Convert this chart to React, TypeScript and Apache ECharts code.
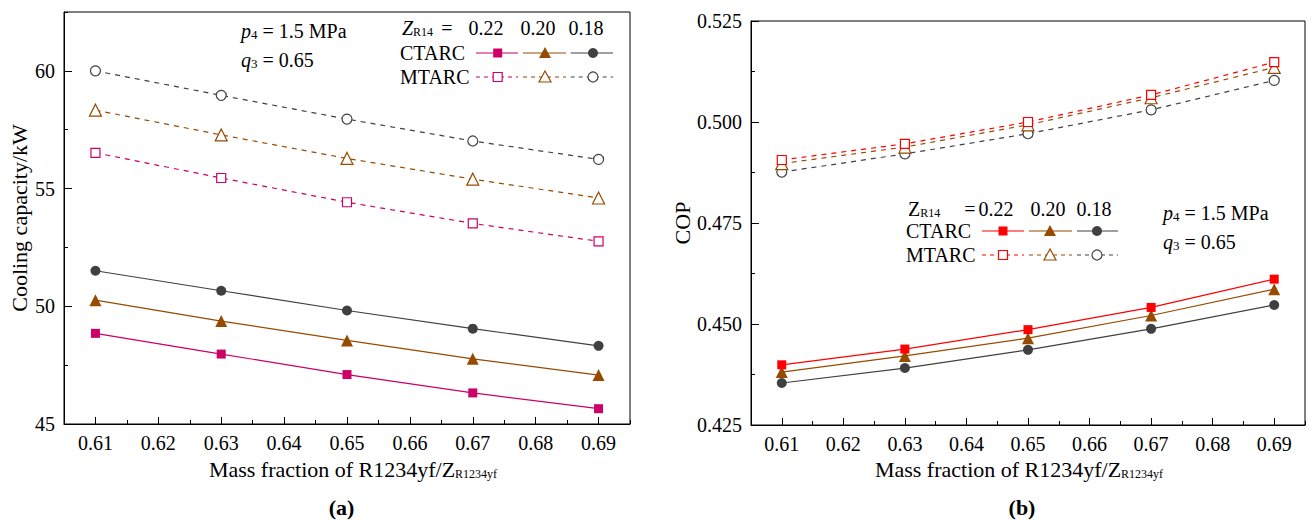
import React, { useEffect, useRef } from 'react';
import * as echarts from 'echarts';

// ---------- data ----------
const xCategories = ['0.61', '0.62', '0.63', '0.64', '0.65', '0.66', '0.67', '0.68', '0.69'];
const xValues = ['0.61', '0.63', '0.65', '0.67', '0.69'];
const zR14Labels = ['0.22', '0.20', '0.18'];

// (a) cooling capacity, kW
const capCTARC022 = [48.85, 47.97, 47.1, 46.32, 45.65];
const capCTARC020 = [50.26, 49.37, 48.55, 47.77, 47.08];
const capCTARC018 = [51.51, 50.66, 49.82, 49.05, 48.32];
const capMTARC022 = [56.52, 55.45, 54.42, 53.52, 52.76];
const capMTARC020 = [58.33, 57.28, 56.28, 55.4, 54.6];
const capMTARC018 = [60.0, 58.96, 57.95, 57.02, 56.24];

// (b) COP
const copCTARC022 = [0.4399, 0.4438, 0.4486, 0.4541, 0.4611];
const copCTARC020 = [0.4381, 0.4421, 0.4465, 0.4521, 0.4586];
const copCTARC018 = [0.4354, 0.4391, 0.4436, 0.4488, 0.4547];
const copMTARC022 = [0.4906, 0.4946, 0.5, 0.5067, 0.5148];
const copMTARC020 = [0.4897, 0.4938, 0.4993, 0.506, 0.5135];
const copMTARC018 = [0.4876, 0.4921, 0.4971, 0.503, 0.5103];

const FONT = "'Times New Roman', 'Liberation Serif', serif";
const MAGENTA = '#CC0066';
const RED = '#FF0000';
const BROWN = '#964B00';
const DARK = '#404040';

const pairs = (vals: number[]) => xValues.map((x, i) => [x, vals[i]]);

function mkSeries(name: string, vals: number[], xIdx: number, yIdx: number, color: string,
  symbol: string, size: number, filled: boolean, dashed: boolean) {
  return {
    name,
    type: 'line',
    xAxisIndex: xIdx,
    yAxisIndex: yIdx,
    data: pairs(vals),
    symbol,
    symbolSize: size,
    showAllSymbol: true,
    lineStyle: { color, width: 1.2, type: dashed ? [5, 5] : 'solid' },
    itemStyle: filled
      ? { color, borderColor: color, borderWidth: 0 }
      : { color: '#ffffff', borderColor: color, borderWidth: 1.2 },
    emphasis: { disabled: true },
    z: filled ? 3 : 2,
  };
}

const RICH = {
  i: { fontFamily: FONT, fontSize: 20, fontStyle: 'italic', fill: '#000' },
  s: { fontFamily: FONT, fontSize: 13, verticalAlign: 'bottom', fill: '#000' },
  n: { fontFamily: FONT, fontSize: 20, fill: '#000' },
  zi: { fontFamily: FONT, fontSize: 20, fontStyle: 'italic', fill: '#000' },
  zn: { fontFamily: FONT, fontSize: 20, fill: '#000' },
  r: { fontFamily: FONT, fontSize: 12, verticalAlign: 'bottom', fill: '#000' },
};

function txt(x: number, y: number, text: string, align = 'left', fontSize = 20, fontWeight = 'normal') {
  return {
    type: 'text',
    x,
    y,
    silent: true,
    style: {
      text,
      fontFamily: FONT,
      fontSize,
      fontWeight,
      fill: '#000',
      align,
      verticalAlign: 'middle',
      rich: RICH,
    },
  };
}

function marker(cx: number, cy: number, symbol: string, color: string, filled: boolean) {
  const style = filled
    ? { fill: color, stroke: color, lineWidth: 0 }
    : { fill: '#ffffff', stroke: color, lineWidth: 1.2 };
  if (symbol === 'rect') {
    return { type: 'rect', shape: { x: cx - 4.5, y: cy - 4.5, width: 9, height: 9 }, style, z: 10 };
  }
  if (symbol === 'triangle') {
    return { type: 'polygon', shape: { points: [[cx, cy - 6], [cx - 6, cy + 5], [cx + 6, cy + 5]] }, style, z: 10 };
  }
  return { type: 'circle', shape: { cx, cy, r: 5 }, style, z: 10 };
}

function sample(x1: number, x2: number, mx: number, y: number, color: string, symbol: string,
  filled: boolean, dashed: boolean) {
  return [
    {
      type: 'line',
      shape: { x1, y1: y, x2, y2: y },
      style: { stroke: color, lineWidth: 1.2, lineDash: dashed ? [4, 4] : null },
      z: 9,
    },
    marker(mx, y, symbol, color, filled),
  ];
}

function legendBlock(
  headX: number, headY: number, eqX: number, numX: number[], ctY: number, mtY: number,
  segs: number[][], c1: string, italicZ: boolean,
) {
  const els: any[] = [];
  els.push(txt(headX, headY, italicZ ? '{zi|Z}{r|R14}' : '{zn|Z}{r|R14}'));
  els.push(txt(eqX, headY, '=', 'center'));
  zR14Labels.forEach((l, i) => els.push(txt(numX[i], headY, l, 'center')));
  els.push(txt(headX - 2, ctY, 'CTARC'));
  els.push(txt(headX - 2, mtY, 'MTARC'));
  const colors = [c1, BROWN, DARK];
  const symbols = ['rect', 'triangle', 'circle'];
  segs.forEach((s, i) => {
    els.push(...sample(s[0], s[1], s[2], ctY, colors[i], symbols[i], true, false));
    els.push(...sample(s[0], s[1], s[2], mtY, colors[i], symbols[i], false, true));
  });
  return els;
}

const axisLineStyle = { lineStyle: { color: '#000', width: 1 } };
const tickLabel = { fontFamily: FONT, fontSize: 20, color: '#000' };

function xAxes(gridIndex: number) {
  return [
    {
      type: 'category',
      gridIndex,
      data: xCategories,
      boundaryGap: true,
      axisLine: axisLineStyle,
      axisTick: { show: true, inside: true, alignWithLabel: true, interval: 0, length: 7, lineStyle: { color: '#000' } },
      axisLabel: { ...tickLabel, margin: 9, interval: 0 },
      splitLine: { show: false },
    },
    {
      type: 'category',
      gridIndex,
      position: 'bottom',
      data: xCategories,
      boundaryGap: true,
      axisLine: { show: false },
      axisTick: { show: true, inside: true, interval: 0, length: 4, lineStyle: { color: '#000' } },
      axisLabel: { show: false },
      splitLine: { show: false },
    },
  ];
}

function yAxes(gridIndex: number, min: number, max: number, interval: number, digits: number,
  name: string, nameGap: number) {
  return [
    {
      type: 'value',
      gridIndex,
      position: 'left',
      min,
      max,
      interval,
      name,
      nameLocation: 'middle',
      nameGap,
      nameTextStyle: { fontFamily: FONT, fontSize: 22, color: '#000' },
      axisLine: { show: true, ...axisLineStyle },
      axisTick: { show: true, inside: true, length: 8, lineStyle: { color: '#000' } },
      axisLabel: {
        ...tickLabel,
        margin: 9,
        showMaxLabel: digits > 0,
        formatter: (v: number) => {
          const k = Math.round(v / interval);
          if (Math.abs(k * interval - v) > interval * 1e-6) return '';
          return v.toFixed(digits);
        },
      },
      splitLine: { show: false },
    },
    {
      type: 'value',
      gridIndex,
      position: 'left',
      min,
      max,
      interval: interval / 2,
      axisLine: { show: false },
      axisTick: { show: true, inside: true, length: 4, lineStyle: { color: '#000' } },
      axisLabel: { show: false },
      splitLine: { show: false },
    },
  ];
}

export default function App() {
  const ref = useRef<HTMLDivElement>(null);
  useEffect(() => {
    if (!ref.current) return;
    const chart = echarts.init(ref.current, undefined, { renderer: 'svg' });
    const graphic: any[] = [
      // annotations (a)
      txt(241, 31, '{i|p}{s|4} = 1.5 MPa'),
      txt(241, 60, '{i|q}{s|3} = 0.65'),
      ...legendBlock(402, 28, 447, [486, 538, 586], 53, 77,
        [[476, 518, 497.7], [523, 566, 545], [570.7, 613, 593]], MAGENTA, true),
      // annotations (b)
      txt(1163, 213, '{i|p}{s|4} = 1.5 MPa'),
      txt(1163, 242, '{i|q}{s|3} = 0.65'),
      ...legendBlock(908, 209, 970, [996, 1048, 1094], 231, 255,
        [[982, 1024, 1003], [1029, 1072, 1050], [1077, 1118, 1097]], RED, false),
      // x titles
      txt(353, 469, 'Mass fraction of R1234yf/Z{r|R1234yf}', 'center', 22),
      txt(1019, 469, 'Mass fraction of R1234yf/Z{r|R1234yf}', 'center', 22),
      // panel labels
      txt(341.5, 507, '(a)', 'center', 22, 'bold'),
      txt(1022, 507, '(b)', 'center', 22, 'bold'),
    ];
    chart.setOption({
      animation: false,
      backgroundColor: '#ffffff',
      textStyle: { fontFamily: FONT },
      grid: [
        { left: 64, top: 12, width: 566, height: 412, show: true, borderColor: '#000', borderWidth: 1, backgroundColor: 'transparent' },
        { left: 751, top: 21, width: 554, height: 404, show: true, borderColor: '#000', borderWidth: 1, backgroundColor: 'transparent' },
      ],
      xAxis: [...xAxes(0), ...xAxes(1)],
      yAxis: [
        ...yAxes(0, 45, 62.5, 5, 0, 'Cooling capacity/kW', 34),
        ...yAxes(1, 0.425, 0.525, 0.025, 3, 'COP', 58),
      ],
      series: [
        mkSeries('MTARC 0.18 (a)', capMTARC018, 0, 0, DARK, 'circle', 10, false, true),
        mkSeries('MTARC 0.20 (a)', capMTARC020, 0, 0, BROWN, 'triangle', 12, false, true),
        mkSeries('MTARC 0.22 (a)', capMTARC022, 0, 0, MAGENTA, 'rect', 9, false, true),
        mkSeries('CTARC 0.18 (a)', capCTARC018, 0, 0, DARK, 'circle', 10, true, false),
        mkSeries('CTARC 0.20 (a)', capCTARC020, 0, 0, BROWN, 'triangle', 12, true, false),
        mkSeries('CTARC 0.22 (a)', capCTARC022, 0, 0, MAGENTA, 'rect', 9, true, false),
        mkSeries('MTARC 0.18 (b)', copMTARC018, 2, 2, DARK, 'circle', 10, false, true),
        mkSeries('MTARC 0.20 (b)', copMTARC020, 2, 2, BROWN, 'triangle', 12, false, true),
        mkSeries('MTARC 0.22 (b)', copMTARC022, 2, 2, RED, 'rect', 9, false, true),
        mkSeries('CTARC 0.18 (b)', copCTARC018, 2, 2, DARK, 'circle', 10, true, false),
        mkSeries('CTARC 0.20 (b)', copCTARC020, 2, 2, BROWN, 'triangle', 12, true, false),
        mkSeries('CTARC 0.22 (b)', copCTARC022, 2, 2, RED, 'rect', 9, true, false),
      ],
      graphic,
    });
    return () => chart.dispose();
  }, []);
  return (
    <div
      ref={ref}
      style={{ position: 'fixed', left: 0, top: 0, width: 1314, height: 520, background: '#fff' }}
    />
  );
}
